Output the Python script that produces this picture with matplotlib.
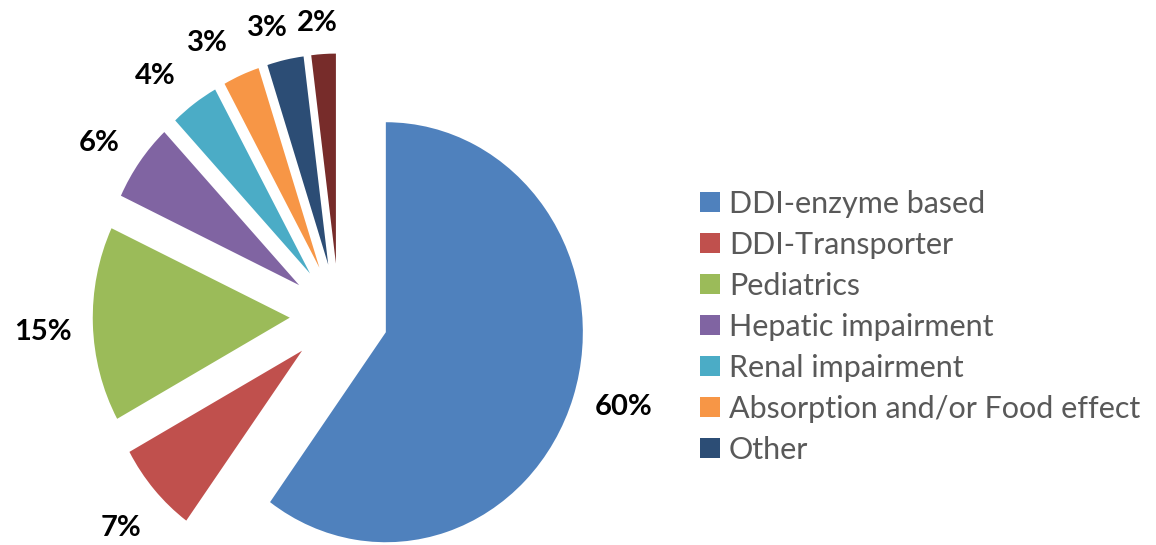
import matplotlib
matplotlib.use("Agg")
import matplotlib.pyplot as plt
import numpy as np

# study categories and their share of submissions (%)
categories = ["DDI-enzyme based", "DDI-Transporter", "Pediatrics",
              "Hepatic impairment", "Renal impairment",
              "Absorption and/or Food effect", "Other", ""]
shares = [60, 7, 15, 6, 4, 3, 3, 2]
colors = ["#4F81BD", "#C0504D", "#9BBB59", "#8064A2",
          "#4BACC6", "#F79646", "#2C4D75", "#772C2A"]

# label placement: distance from the slice apex and a small angular nudge (deg)
label_dist = [1.26, 1.25, 1.255, 1.22, 1.225, 1.21, 1.17, 1.15]
label_nudge = [1.5, 1.2, 1.3, 2.3, 3.9, 4.6, 2.6, 1.0]
explode = 0.25

plt.rcParams["font.family"] = ["Lato", "DejaVu Sans"]

fig = plt.figure(figsize=(11.56, 5.45), dpi=100)
ax = fig.add_axes([0, 0, 1, 1])

wedges, texts, pcts = ax.pie(
    shares,
    colors=colors,
    explode=[explode] * len(shares),
    startangle=90,
    counterclock=False,
    autopct="%.0f%%",
    wedgeprops=dict(linewidth=0),
    textprops=dict(fontsize=21, fontweight="bold", color="black"),
)

# move each percentage label out past its (exploded) slice
for w, t, d, nudge in zip(wedges, pcts, label_dist, label_nudge):
    mid = np.deg2rad((w.theta1 + w.theta2) / 2)
    ang = mid + np.deg2rad(nudge)
    cx, cy = explode * np.cos(mid), explode * np.sin(mid)
    t.set_position((cx + d * np.cos(ang), cy + d * np.sin(ang)))

# the pie is drawn slightly squashed horizontally
ax.set_aspect("auto")
ax.set_xlim(-339 / 197, (1156 - 339) / 197)
ax.set_ylim((316 - 545) / 210, 316 / 210)
ax.axis("off")

leg = ax.legend(
    wedges[:7], categories[:7],
    loc="upper left",
    bbox_to_anchor=(700 / 1156, 1 - 190 / 545),
    bbox_transform=fig.transFigure,
    frameon=False,
    fontsize=22,
    labelcolor="#595959",
    handlelength=0.65,
    handleheight=0.65,
    handletextpad=0.3,
    labelspacing=0.425,
    borderpad=0,
    borderaxespad=0,
)

fig.savefig("out.png", dpi=100)
